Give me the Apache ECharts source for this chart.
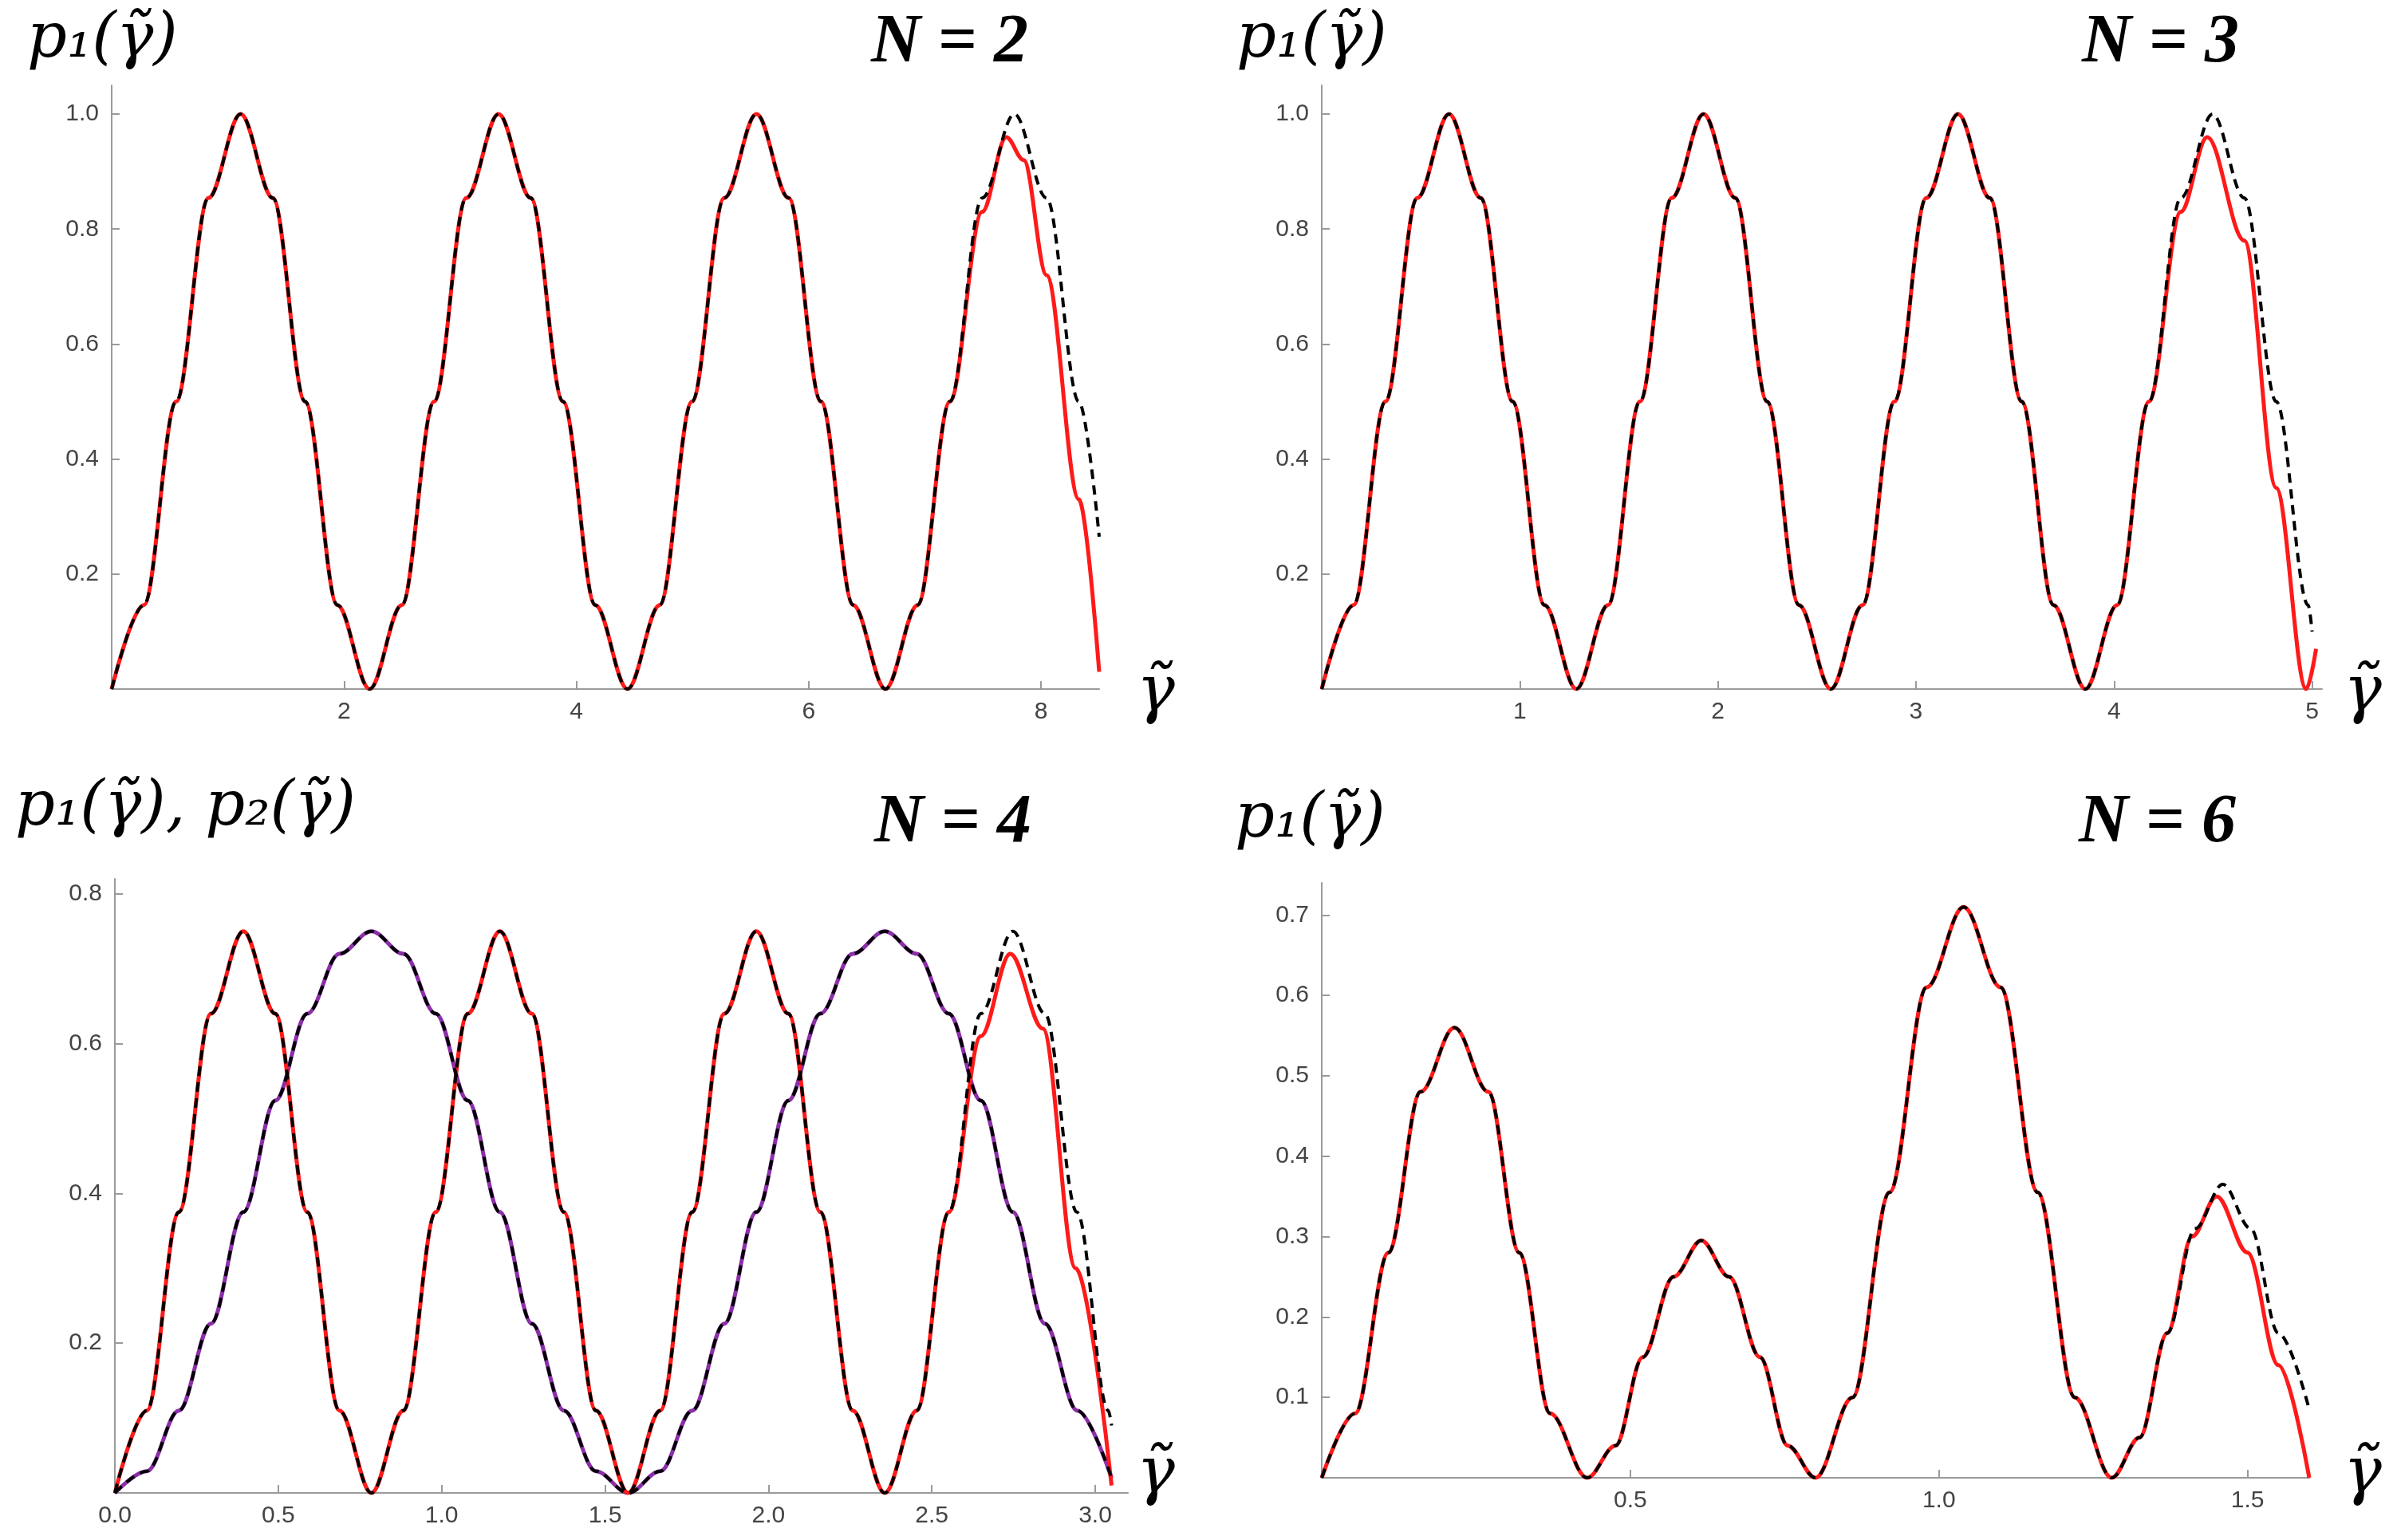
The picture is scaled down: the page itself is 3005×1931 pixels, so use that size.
<!DOCTYPE html>
<html><head><meta charset="utf-8">
<script src="https://cdn.jsdelivr.net/npm/echarts@6/dist/echarts.min.js"></script>
<style>html,body{margin:0;padding:0;background:#fff}#c{width:3005px;height:1931px}</style>
</head><body><div id="c"></div>
<script>
// Panel N=2
const n2X = [0,0.2775,0.555,0.8325,1.11,1.3875,1.665,1.9425,2.22,2.4975,2.775,3.0525,3.33,3.6075,3.885,4.1625,4.44,4.7175,4.995,5.2725,5.55,5.8275,6.105,6.3825,6.66,6.9375,7.215,7.4925,7.77,8.0475,8.325,8.5];
const n2Black = [0,0.146,0.5,0.854,1,0.854,0.5,0.146,0,0.146,0.5,0.854,1,0.854,0.5,0.146,0,0.146,0.5,0.854,1,0.854,0.5,0.146,0,0.146,0.5,0.854,1,0.854,0.5,0.265];
const n2RedX = [0,0.2775,0.555,0.8325,1.11,1.3875,1.665,1.9425,2.22,2.4975,2.775,3.0525,3.33,3.6075,3.885,4.1625,4.44,4.7175,4.995,5.2725,5.55,5.8275,6.105,6.3825,6.66,6.9375,7.215,7.4925,7.70,7.85,8.0475,8.325,8.5];
const n2Red = [0,0.146,0.5,0.854,1,0.854,0.5,0.146,0,0.146,0.5,0.854,1,0.854,0.5,0.146,0,0.146,0.5,0.854,1,0.854,0.5,0.146,0,0.146,0.5,0.83,0.96,0.92,0.72,0.33,0.03];
// Panel N=3
const n3X = [0,0.1606,0.3213,0.4819,0.6425,0.8031,0.9638,1.1244,1.285,1.4456,1.6063,1.7669,1.9275,2.0881,2.2488,2.4094,2.57,2.7306,2.8913,3.0519,3.2125,3.3731,3.5338,3.6944,3.855,4.0156,4.1763,4.3369,4.4975,4.6581,4.8188,4.98,5.0];
const n3Black = [0,0.146,0.5,0.854,1,0.854,0.5,0.146,0,0.146,0.5,0.854,1,0.854,0.5,0.146,0,0.146,0.5,0.854,1,0.854,0.5,0.146,0,0.146,0.5,0.854,1,0.854,0.5,0.146,0.10];
const n3RedX = [0,0.1606,0.3213,0.4819,0.6425,0.8031,0.9638,1.1244,1.285,1.4456,1.6063,1.7669,1.9275,2.0881,2.2488,2.4094,2.57,2.7306,2.8913,3.0519,3.2125,3.3731,3.5338,3.6944,3.855,4.0156,4.1763,4.3369,4.47,4.6581,4.8188,4.97,5.02];
const n3Red = [0,0.146,0.5,0.854,1,0.854,0.5,0.146,0,0.146,0.5,0.854,1,0.854,0.5,0.146,0,0.146,0.5,0.854,1,0.854,0.5,0.146,0,0.146,0.5,0.83,0.96,0.78,0.35,0.0,0.07];
// Panel N=4
const n4X = [0,0.098,0.196,0.294,0.393,0.491,0.589,0.687,0.785,0.883,0.982,1.08,1.178,1.276,1.374,1.472,1.571,1.669,1.767,1.865,1.963,2.061,2.159,2.258,2.356,2.454,2.552,2.65,2.748,2.846,2.944,3.04,3.05];
const n4Black = [0,0.11,0.375,0.64,0.75,0.64,0.375,0.11,0,0.11,0.375,0.64,0.75,0.64,0.375,0.11,0,0.11,0.375,0.64,0.75,0.64,0.375,0.11,0,0.11,0.375,0.64,0.75,0.64,0.375,0.11,0.09];
const n4RedX = [0,0.098,0.196,0.294,0.393,0.491,0.589,0.687,0.785,0.883,0.982,1.08,1.178,1.276,1.374,1.472,1.571,1.669,1.767,1.865,1.963,2.061,2.159,2.258,2.356,2.454,2.552,2.65,2.74,2.84,2.94,3.05];
const n4Red = [0,0.11,0.375,0.64,0.75,0.64,0.375,0.11,0,0.11,0.375,0.64,0.75,0.64,0.375,0.11,0,0.11,0.375,0.64,0.75,0.64,0.375,0.11,0,0.11,0.375,0.61,0.72,0.62,0.30,0.01];
const n4PX = [0,0.098,0.196,0.294,0.393,0.491,0.589,0.687,0.785,0.883,0.982,1.08,1.178,1.276,1.374,1.472,1.571,1.669,1.767,1.865,1.963,2.061,2.159,2.258,2.356,2.454,2.552,2.65,2.748,2.846,2.945,3.05];
const n4Purple = [0,0.029,0.11,0.226,0.375,0.524,0.64,0.72,0.75,0.72,0.64,0.524,0.375,0.226,0.11,0.029,0,0.029,0.11,0.226,0.375,0.524,0.64,0.72,0.75,0.72,0.64,0.524,0.375,0.226,0.11,0.02];
// Panel N=6
const n6X = [0,0.054,0.108,0.16,0.215,0.27,0.32,0.37,0.43,0.476,0.52,0.57,0.615,0.66,0.71,0.755,0.80,0.86,0.92,0.98,1.04,1.10,1.16,1.22,1.28,1.325,1.37,1.415,1.46,1.505,1.55,1.60];
const n6Black = [0,0.08,0.28,0.48,0.56,0.48,0.28,0.08,0,0.04,0.15,0.25,0.295,0.25,0.15,0.04,0,0.10,0.355,0.61,0.71,0.61,0.355,0.10,0,0.05,0.18,0.31,0.365,0.31,0.18,0.085];
const n6RedX = [0,0.054,0.108,0.16,0.215,0.27,0.32,0.37,0.43,0.476,0.52,0.57,0.615,0.66,0.71,0.755,0.80,0.86,0.92,0.98,1.04,1.10,1.16,1.22,1.28,1.325,1.37,1.41,1.45,1.50,1.55,1.60];
const n6Red = [0,0.08,0.28,0.48,0.56,0.48,0.28,0.08,0,0.04,0.15,0.25,0.295,0.25,0.15,0.04,0,0.10,0.355,0.61,0.71,0.61,0.355,0.10,0,0.05,0.18,0.30,0.35,0.28,0.14,0.0];

const pairs=(xs,ys)=>xs.map((x,i)=>[x,ys[i]]);
const grids=[
 {left:140,top:107,width:1238,height:757},
 {left:1657,top:107,width:1254,height:757},
 {left:144,top:1102,width:1270,height:770},
 {left:1657,top:1107,width:1238,height:746}];
const axCol='#9a9a9a';
const lbl={fontSize:30,color:'#444',fontFamily:'Arial'};
function xa(i,max,interval,dec,show0){return {type:'value',gridIndex:i,min:0,max:max,interval:interval,
 axisLine:{lineStyle:{color:axCol,width:2}},axisTick:{inside:true,length:10,lineStyle:{color:axCol,width:2}},splitLine:{show:false},
 axisLabel:Object.assign({margin:14,formatter:v=>(v===0&&!show0)?'':v.toFixed(dec),showMaxLabel:false},lbl)};}
function ya(i,max,interval){return {type:'value',gridIndex:i,min:0,max:max,interval:interval,
 axisLine:{show:true,lineStyle:{color:axCol,width:2}},axisTick:{show:true,inside:true,length:10,lineStyle:{color:axCol,width:2}},splitLine:{show:false},
 axisLabel:Object.assign({margin:16,showMaxLabel:false,formatter:v=>v===0?'':v.toFixed(1)},lbl)};}
function ln(i,xs,ys,color,dash,w){return {type:'line',xAxisIndex:i,yAxisIndex:i,data:pairs(xs,ys),smooth:0.35,smoothMonotone:'x',showSymbol:false,
 lineStyle:{color:color,width:w,type:dash?[12,8]:'solid'},z:dash?5:3,animation:false};}
const series=[
 ln(0,n2RedX,n2Red,'#ff1a1a',false,5), ln(0,n2X,n2Black,'#000',true,4),
 ln(1,n3RedX,n3Red,'#ff1a1a',false,5), ln(1,n3X,n3Black,'#000',true,4),
 ln(2,n4PX,n4Purple,'#8b2fa8',false,5), ln(2,n4PX,n4Purple,'#000',true,4),
 ln(2,n4RedX,n4Red,'#ff1a1a',false,5), ln(2,n4X,n4Black,'#000',true,4),
 ln(3,n6RedX,n6Red,'#ff1a1a',false,5), ln(3,n6X,n6Black,'#000',true,4)];
const tf="'DejaVu Serif', serif";
function t(x,y,s,size,bold,italic){return {type:'text',left:x,top:y,style:{text:s,fontSize:size,fontFamily:bold?"'Liberation Serif', serif":tf,fontWeight:bold?'bold':'normal',fontStyle:italic?'italic':'normal',fill:'#000'}};}
const graphic=[
 t(34,12,'p₁(γ̃)',78,false,true), t(1092,12,'N = 2',86,true,true),
 t(1550,12,'p₁(γ̃)',78,false,true), t(2610,12,'N = 3',86,true,true),
 t(19,975,'p₁(γ̃), p₂(γ̃)',78,false,true), t(1096,990,'N = 4',86,true,true),
 t(1548,990,'p₁(γ̃)',78,false,true), t(2606,990,'N = 6',86,true,true),
 t(1425,830,'γ̃',80,false,true), t(2938,830,'γ̃',80,false,true),
 t(1425,1810,'γ̃',80,false,true), t(2938,1810,'γ̃',80,false,true)];
const chart=echarts.init(document.getElementById('c'));
chart.setOption({animation:false,backgroundColor:'#fff',grid:grids,
 xAxis:[xa(0,8.5,2,0,false),xa(1,5.05,1,0,false),xa(2,3.1,0.5,1,true),xa(3,1.6,0.5,1,false)],
 yAxis:[ya(0,1.05,0.2),ya(1,1.05,0.2),ya(2,0.82,0.2),ya(3,0.74,0.1)],
 series:series,graphic:graphic});
</script></body></html>
